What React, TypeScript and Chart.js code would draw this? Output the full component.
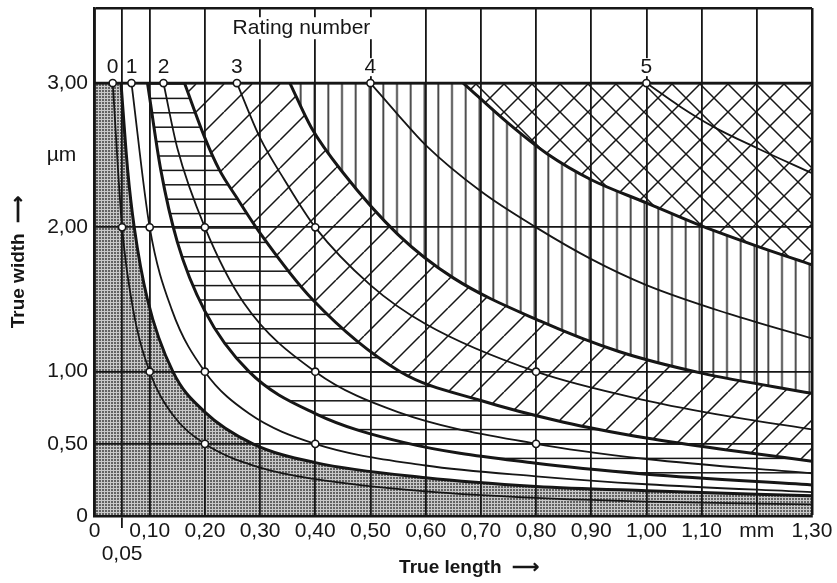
import React, { useEffect, useRef } from 'react';
import { Chart, registerables } from 'chart.js';

Chart.register(...registerables);

const FONT = "'Liberation Sans', Arial, Helvetica, sans-serif";
const INK = '#161616';

// ---- axis ticks ----
const xTickValues = [0, 0.05, 0.1, 0.2, 0.3, 0.4, 0.5, 0.6, 0.7, 0.8, 0.9, 1.0, 1.1, 1.2, 1.3];
const xTickLabels: (string | string[])[] = ['0', ['', '0,05'], '0,10', '0,20', '0,30', '0,40', '0,50', '0,60', '0,70', '0,80', '0,90', '1,00', '1,10', 'mm', '1,30'];
const yTickValues = [0, 0.5, 1, 2, 2.5, 3, 3.52];
const yTickLabels = ['0', '0,50', '1,00', '2,00', 'µm\u00a0\u00a0', '3,00', ''];

// ---- rating numbers ----
const ratingNames = ['0', '1', '2', '3', '4', '5'];
const ratingX = [0.033, 0.067, 0.125, 0.258, 0.5, 1.0];
const ratingLabelY = 3.11;
const ratingTitle = 'Rating number';
const ratingTitleX = 0.375;
const ratingTitleY = 3.38;

// ---- upper limit line (3,00) ----
const topX = [0, 1.3];
const topY = [3.0, 3.0];

// ---- class boundaries (thick) ----
const b05X = [0.048, 0.06, 0.072, 0.096, 0.142, 0.2, 0.287, 0.4, 0.6, 0.8, 1.0, 1.3];
const b05Y = [3.0, 2.4, 2.0, 1.5, 1.0, 0.72, 0.5, 0.37, 0.265, 0.205, 0.175, 0.14];
const b15X = [0.096, 0.12, 0.15, 0.2, 0.28, 0.4, 0.56, 0.8, 1.0, 1.3];
const b15Y = [3.0, 2.4, 1.9, 1.42, 1.0, 0.71, 0.51, 0.365, 0.29, 0.215];
const b25X = [0.163, 0.2, 0.226, 0.257, 0.3, 0.395, 0.554, 0.7, 0.85, 1.0, 1.15, 1.3];
const b25Y = [3.0, 2.62, 2.4, 2.21, 1.96, 1.5, 1.0, 0.8, 0.65, 0.54, 0.455, 0.38];
const b35X = [0.354, 0.393, 0.45, 0.55, 0.65, 0.808, 0.95, 1.1, 1.3];
const b35Y = [3.0, 2.69, 2.38, 1.95, 1.65, 1.35, 1.14, 0.99, 0.85];
const b45X = [0.668, 0.75, 0.82, 0.9, 1.0, 1.1, 1.2, 1.3];
const b45Y = [3.0, 2.72, 2.51, 2.33, 2.17, 2.01, 1.87, 1.74];

// ---- rating curves (thin) ----
const r0X = [0.033, 0.05, 0.07, 0.1, 0.14, 0.2, 0.3, 0.4, 0.6, 0.8, 1.0, 1.3];
const r0Y = [3.0, 2.0, 1.43, 1.0, 0.71, 0.5, 0.335, 0.255, 0.17, 0.125, 0.1, 0.08];
const r1X = [0.067, 0.1, 0.14, 0.2, 0.28, 0.4, 0.6, 0.8, 1.0, 1.3];
const r1Y = [3.0, 2.0, 1.43, 1.0, 0.71, 0.5, 0.35, 0.275, 0.22, 0.165];
const r2X = [0.125, 0.15, 0.2, 0.27, 0.4, 0.55, 0.8, 1.0, 1.3];
const r2Y = [3.0, 2.55, 2.0, 1.48, 1.0, 0.72, 0.5, 0.395, 0.295];
const r3X = [0.258, 0.3, 0.344, 0.4, 0.5, 0.6, 0.8, 1.0, 1.15, 1.3];
const r3Y = [3.0, 2.62, 2.33, 2.0, 1.6, 1.33, 1.0, 0.8, 0.69, 0.6];
const r4X = [0.5, 0.55, 0.6, 0.7, 0.8, 0.9, 1.0, 1.15, 1.3];
const r4Y = [3.0, 2.78, 2.57, 2.25, 2.0, 1.78, 1.6, 1.4, 1.23];
const r5X = [1.0, 1.06, 1.12, 1.2, 1.3];
const r5Y = [3.0, 2.84, 2.7, 2.55, 2.375];

// ---- marked points (small circles) ----
const markX = [0.033, 0.067, 0.125, 0.258, 0.5, 1.0, 0.05, 0.1, 0.2, 0.4, 0.1, 0.2, 0.4, 0.8, 0.2, 0.4, 0.8];
const markY = [3, 3, 3, 3, 3, 3, 2, 2, 2, 2, 1, 1, 1, 1, 0.5, 0.5, 0.5];

const pts = (xs: number[], ys: number[]) => xs.map((x, i) => ({ x, y: ys[i] }));

const patternCache: Record<string, CanvasPattern> = {};

function buildPattern(kind: string, chart: any): CanvasPattern | string {
  const xs = chart?.scales?.x;
  const ys = chart?.scales?.y;
  if (!xs || !ys) return '#ffffff';
  const x0 = xs.getPixelForValue(0);
  const y0 = ys.getPixelForValue(0);
  const pxX = Math.abs(xs.getPixelForValue(0.1) - x0);
  const pxY = Math.abs(ys.getPixelForValue(0.5) - y0);
  if (!isFinite(pxX) || !isFinite(pxY) || pxX < 4 || pxY < 4) return '#ffffff';
  const key = `${kind}:${x0.toFixed(1)}:${y0.toFixed(1)}:${pxX.toFixed(1)}:${pxY.toFixed(1)}`;
  if (patternCache[key]) return patternCache[key];
  const cv = document.createElement('canvas');
  const g = cv.getContext('2d')!;
  let ox = 0;
  let oy = 0;
  if (kind === 'stipple') {
    cv.width = 3; cv.height = 3;
    g.fillStyle = '#c8c8c8'; g.fillRect(0, 0, 3, 3);
    g.fillStyle = '#626262'; g.fillRect(0, 0, 2, 2);
  } else if (kind === 'horizontal') {
    const H = Math.round(pxY);
    cv.width = 8; cv.height = H;
    g.fillStyle = '#ffffff'; g.fillRect(0, 0, 8, H);
    g.fillStyle = INK;
    for (let i = 0; i <= 5; i++) g.fillRect(0, (i * H) / 5 - 0.75, 8, 1.5);
    oy = ((y0 % H) + H) % H;
  } else if (kind === 'vertical') {
    const W = Math.round(pxX);
    cv.width = W; cv.height = 8;
    g.fillStyle = '#ffffff'; g.fillRect(0, 0, W, 8);
    g.fillStyle = INK;
    for (let i = 0; i <= 4; i++) g.fillRect((i * W) / 4 - 0.75, 0, 1.5, 8);
    ox = ((x0 % W) + W) % W;
  } else {
    const S = 28;
    cv.width = S; cv.height = S;
    g.fillStyle = '#ffffff'; g.fillRect(0, 0, S, S);
    g.strokeStyle = INK; g.lineWidth = 1.5;
    g.beginPath();
    for (const k of [-S, 0, S]) {
      g.moveTo(k, S); g.lineTo(k + S, 0);
      if (kind === 'cross') { g.moveTo(k, 0); g.lineTo(k + S, S); }
    }
    g.stroke();
  }
  const p = chart.ctx.createPattern(cv, 'repeat') as CanvasPattern;
  if (ox || oy) p.setTransform(new DOMMatrix([1, 0, 0, 1, ox, oy]));
  patternCache[key] = p;
  return p;
}

const pat = (kind: string) => (c: any) => buildPattern(kind, c.chart);

const textPlugin = {
  id: 'ratingText',
  afterDatasetsDraw(chart: any) {
    const { ctx, scales } = chart;
    const xs = scales.x;
    const ys = scales.y;
    ctx.save();
    ctx.textAlign = 'center';
    ctx.textBaseline = 'middle';
    ctx.font = `21px ${FONT}`;
    ratingNames.forEach((t, i) => {
      const px = xs.getPixelForValue(ratingX[i]);
      const py = ys.getPixelForValue(ratingLabelY);
      const w = ctx.measureText(t).width;
      ctx.fillStyle = '#ffffff';
      ctx.fillRect(px - w / 2 - 1, py - 9, w + 2, 18);
      ctx.fillStyle = INK;
      ctx.fillText(t, px, py);
    });
    ctx.font = `21px ${FONT}`;
    const tx = xs.getPixelForValue(ratingTitleX);
    const ty = ys.getPixelForValue(ratingTitleY);
    const tw = ctx.measureText(ratingTitle).width;
    ctx.fillStyle = '#ffffff';
    ctx.fillRect(tx - tw / 2 - 2, ty - 11, tw + 4, 22);
    ctx.fillStyle = INK;
    ctx.fillText(ratingTitle, tx, ty);
    ctx.restore();
  },
};

// index of the 3,00 limit line dataset (target of the class fills)
const LIMIT_INDEX = 1;

const boundary = (label: string, xs: number[], ys: number[], bg: any, order: number) => ({
  label,
  data: pts(xs, ys),
  borderColor: INK,
  borderWidth: 3,
  cubicInterpolationMode: 'monotone' as const,
  fill: LIMIT_INDEX,
  backgroundColor: bg,
  pointRadius: 0,
  order,
});

const rating = (label: string, xs: number[], ys: number[]) => ({
  label,
  data: pts(xs, ys),
  borderColor: INK,
  borderWidth: 1.8,
  cubicInterpolationMode: 'monotone' as const,
  fill: false,
  pointRadius: 0,
  order: 5,
});

export default function App() {
  const ref = useRef<HTMLCanvasElement>(null);
  useEffect(() => {
    const canvas = ref.current;
    if (!canvas) return;
    Chart.defaults.font.family = FONT;
    const chart = new Chart(canvas, {
      type: 'line',
      data: {
        datasets: [
          {
            label: 'marks',
            data: pts(markX, markY),
            showLine: false,
            fill: false,
            pointRadius: 3.6,
            pointBackgroundColor: '#ffffff',
            pointBorderColor: INK,
            pointBorderWidth: 1.6,
            order: 0,
          },
          {
            label: 'limit',
            data: pts(topX, topY),
            borderColor: INK,
            borderWidth: 2.5,
            tension: 0,
            fill: 'origin',
            backgroundColor: pat('stipple'),
            pointRadius: 0,
            order: 20,
          },
          boundary('B0.5', b05X, b05Y, '#ffffff', 19),
          boundary('B1.5', b15X, b15Y, pat('horizontal'), 18),
          boundary('B2.5', b25X, b25Y, pat('diagonal'), 17),
          boundary('B3.5', b35X, b35Y, pat('vertical'), 16),
          boundary('B4.5', b45X, b45Y, pat('cross'), 15),
          rating('0', r0X, r0Y),
          rating('1', r1X, r1Y),
          rating('2', r2X, r2Y),
          rating('3', r3X, r3Y),
          rating('4', r4X, r4Y),
          rating('5', r5X, r5Y),
        ] as any,
      },
      options: {
        responsive: false,
        devicePixelRatio: 1,
        animation: false,
        events: [],
        layout: { padding: { top: 8, right: 25, left: 0, bottom: 0 } },
        plugins: {
          legend: { display: false },
          tooltip: { enabled: false },
          filler: { drawTime: 'beforeDraw', propagate: false },
        },
        scales: {
          x: {
            type: 'linear',
            min: 0,
            max: 1.3,
            afterBuildTicks: (s: any) => { s.ticks = xTickValues.map((v) => ({ value: v })); },
            afterFit: (s: any) => { s.height = 67; },
            ticks: {
              autoSkip: false,
              maxRotation: 0,
              minRotation: 0,
              padding: -8.5,
              color: INK,
              font: { family: FONT, size: 21, lineHeight: 1.1 },
              callback: (_v: any, i: number) => xTickLabels[i],
            },
            grid: {
              color: INK,
              lineWidth: (c: any) => (c.index === xTickValues.length - 1 ? 2.5 : 1.8),
              drawTicks: true,
              tickLength: 12,
              tickWidth: 1.8,
              tickColor: (c: any) => (c.index === 1 ? INK : 'rgba(0,0,0,0)'),
            },
            border: { color: INK, width: 2.5 },
            title: {
              display: true,
              text: '\u00a0\u00a0\u00a0\u00a0\u00a0\u00a0True length  \u27F6',
              color: INK,
              font: { family: FONT, size: 19, weight: 'bold' },
              padding: { top: 0, bottom: 4 },
            },
          },
          y: {
            type: 'linear',
            min: 0,
            max: 3.52,
            afterBuildTicks: (s: any) => { s.ticks = yTickValues.map((v) => ({ value: v })); },
            afterFit: (s: any) => { s.width = 94.5; },
            ticks: {
              padding: 6.5,
              color: INK,
              font: (c: any) => ({ family: FONT, size: c.index === yTickValues.length - 1 ? 1 : 21 }),
              callback: (_v: any, i: number) => yTickLabels[i],
            },
            grid: {
              drawTicks: false,
              color: (c: any) => (c.index === 4 ? 'rgba(0,0,0,0)' : INK),
              lineWidth: (c: any) => (c.index >= 5 ? 2.5 : 1.8),
            },
            border: { color: INK, width: 2.5 },
            title: {
              display: true,
              text: 'True width  \u27F6',
              color: INK,
              font: { family: FONT, size: 19, weight: 'bold' },
              padding: { top: 7, bottom: 0 },
            },
          },
        },
      } as any,
      plugins: [textPlugin],
    });
    return () => chart.destroy();
  }, []);
  return (
    <div style={{ position: 'absolute', left: 0, top: 0, width: 837, height: 583, background: '#ffffff' }}>
      <canvas ref={ref} width={837} height={583} style={{ display: 'block', width: 837, height: 583 }} />
    </div>
  );
}
